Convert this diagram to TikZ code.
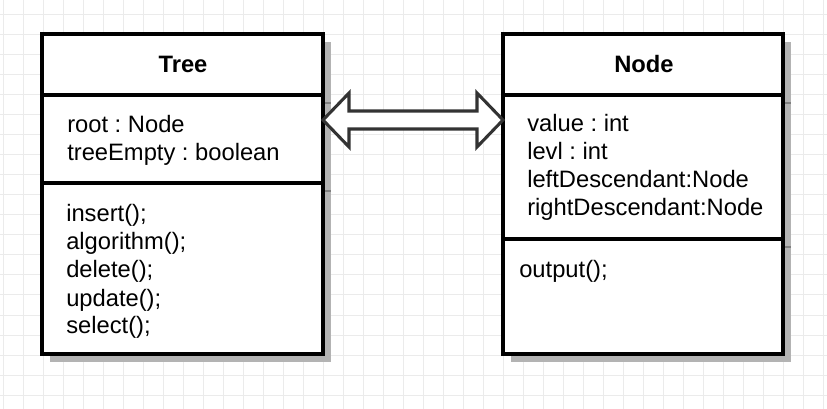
\documentclass[tikz,border=0pt]{standalone}
\usepackage{fontspec}
\setmainfont{Liberation Sans}
\usepackage{tikz}
\usetikzlibrary{calc}
\usetikzlibrary{positioning}
\definecolor{gridgray}{HTML}{EBEBEB}
\definecolor{shadowgray}{HTML}{B3B3B3}
\definecolor{arrowgray}{HTML}{333333}
\frenchspacing

\begin{document}
\begin{tikzpicture}[x=0.75pt,y=-0.75pt,
  box/.style={line width=2.7pt,fill=white},
  member/.style={anchor=base west,inner sep=0pt,font=\fontsize{17.8}{21}\selectfont},
  title/.style={anchor=base,inner sep=0pt,font=\fontsize{17.8}{21}\selectfont\bfseries}]
\useasboundingbox (0,0) rectangle (827,409);
\fill[white] (0,0) rectangle (827,409);
\foreach \gx in {3,23,...,823} \draw[gridgray,line width=0.75pt] (\gx,0)--(\gx,409);
\foreach \gy in {15,35,...,395} \draw[gridgray,line width=0.75pt] (0,\gy)--(827,\gy);

\coordinate (A) at (42,34);
\coordinate (B) at (323,354);
\coordinate (E) at (42,95);
\coordinate (F) at (323,95);
\coordinate (G) at (42,183);
\coordinate (H) at (323,183);

\coordinate (C) at (503,34);
\coordinate (D) at (783,354);
\coordinate (I) at (503,95);
\coordinate (J) at (783,95);
\coordinate (K) at (503,239);
\coordinate (L) at (783,239);

\fill[shadowgray] ($(A)+(8,8)$) rectangle ($(B)+(8,8)$);
\fill[shadowgray] ($(C)+(8,8)$) rectangle ($(D)+(8,8)$);
\draw[gray,line width=1.2pt]
  ($(F)+(0,8)$)--($(F)+(8,8)$)
  ($(H)+(0,8)$)--($(H)+(8,8)$)
  ($(J)+(0,8)$)--($(J)+(8,8)$)
  ($(L)+(0,8)$)--($(L)+(8,8)$);

\draw[box] (A) rectangle (B);
\draw[line width=2.7pt] (E)--(F) (G)--(H);
\draw[box] (C) rectangle (D);
\draw[line width=2.7pt] (I)--(J) (K)--(L);

\node[title] (treetitle) at (183,73) {Tree};
\node[member] (root) at (67,133) {root : Node};
\node[member] (empty) at (67,161) {treeEmpty : boolean};
\node[member] (insert) at (66,222) {insert();};
\node[member] (algo) at (66,250) {algorithm();};
\node[member] (delete) at (66,278) {delete();};
\node[member] (update) at (66,306) {update();};
\node[member] (select) at (66,334) {select();};

\node[title] (nodetitle) at (644,73) {Node};
\node[member] (value) at (527,132) {value : int};
\node[member] (levl) at (527,160) {levl : int};
\node[member] (left) at (527,188) {leftDescendant:Node};
\node[member] (right) at (527,216) {rightDescendant:Node};
\node[member] (output) at (519,277) {output();};

\coordinate (P) at ($(F)+(0,25)$);
\coordinate (Q) at ($(I)+(0,25)$);
\draw[arrowgray,line width=2.3pt,fill=white,line join=miter]
  (P)--($(P)+(26,-27)$)--($(P)+(26,-9)$)--($(Q)+(-26,-9)$)--($(Q)+(-26,-27)$)--
  (Q)--($(Q)+(-26,27)$)--($(Q)+(-26,9)$)--($(P)+(26,9)$)--($(P)+(26,27)$)--cycle;
\end{tikzpicture}
\end{document}
